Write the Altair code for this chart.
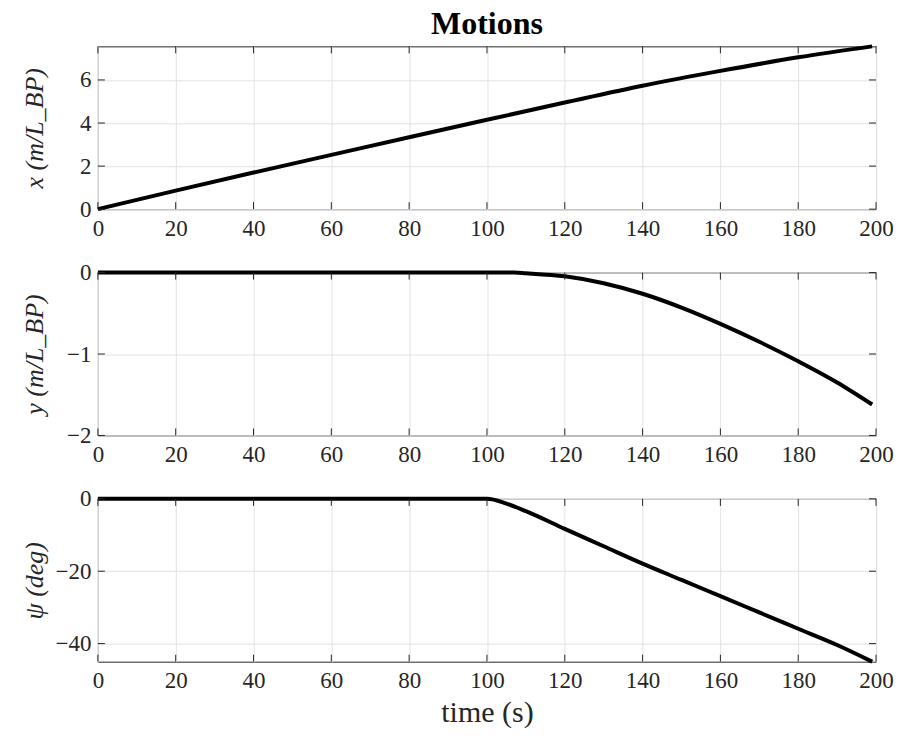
import altair as alt
import pandas as pd

# ---- data ----
t_x = [0, 20, 40, 60, 80, 100, 120, 140, 160, 180, 199]
x_pos = [0, 0.86, 1.70, 2.52, 3.34, 4.15, 4.95, 5.73, 6.42, 7.05, 7.56]

t_y = [0, 100, 107, 110, 120, 130, 140, 150, 160, 170, 180, 190, 199]
y_pos = [0, 0, 0, -0.008, -0.045, -0.13, -0.26, -0.43, -0.63, -0.85, -1.09, -1.35, -1.62]

t_psi = [0, 100, 105, 110, 120, 130, 140, 150, 160, 170, 180, 190, 199]
psi = [0, 0, -1.3, -3.4, -8.3, -13.1, -17.9, -22.4, -26.9, -31.4, -35.9, -40.4, -45.0]

x_ticks = [0, 20, 40, 60, 80, 100, 120, 140, 160, 180, 200]
x_ticks_p1 = [0, 2, 4, 6]
y_ticks_p2 = [-2, -1, 0]
psi_ticks = [-40, -20, 0]

W, H = 779, 163
FONT = "Liberation Serif"
FRAME = "#262626"
TL = 7  # inward tick length

xs = alt.Scale(domain=[0, 200], nice=False, zero=False)
xtick_df = pd.DataFrame({"t": x_ticks})


def panel(df, field, ydomain, yticks, ytitle, xtitle=None, title=None):
    ys = alt.Scale(domain=ydomain, nice=False, zero=False)
    xaxis = alt.Axis(values=x_ticks, labelFlush=False, labelOverlap=False, format=".0f",
                     title=xtitle, titlePadding=5, titleFontSize=30)
    yaxis = alt.Axis(values=yticks, title=ytitle, titleX=-63, titleY=H / 2,
                     titleAlign="center", titleBaseline="middle", titleAngle=270,
                     titleFontStyle="italic", labelOverlap=False, format=".0f",
                     labelPadding=7)
    X = alt.X("t:Q", scale=xs, axis=xaxis)
    Y = alt.Y(f"{field}:Q", scale=ys, axis=yaxis)
    line = alt.Chart(df).mark_line(color="black", strokeWidth=4, interpolate="monotone").encode(
        x=X, y=Y)
    ytick_df = pd.DataFrame({field: yticks})
    xb = alt.Chart(xtick_df).mark_rule(color=FRAME, strokeWidth=1).encode(
        x=X, y=alt.value(H), y2=alt.value(H - TL))
    xt = alt.Chart(xtick_df).mark_rule(color=FRAME, strokeWidth=1).encode(
        x=X, y=alt.value(0), y2=alt.value(TL))
    yl = alt.Chart(ytick_df).mark_rule(color=FRAME, strokeWidth=1).encode(
        y=Y, x=alt.value(0), x2=alt.value(TL))
    yr = alt.Chart(ytick_df).mark_rule(color=FRAME, strokeWidth=1).encode(
        y=Y, x=alt.value(W), x2=alt.value(W - TL))
    props = dict(width=W, height=H)
    if title is not None:
        props["title"] = alt.TitleParams(title, fontSize=32, fontWeight="bold", font=FONT,
                                         anchor="middle", frame="group", offset=-3, color="black")
    return alt.layer(line, xb, xt, yl, yr).properties(**props)


p1 = panel(pd.DataFrame({"t": t_x, "x": x_pos}), "x", [0, 7.56], x_ticks_p1,
           "x (m/L_BP)", title="Motions")
p2 = panel(pd.DataFrame({"t": t_y, "y": y_pos}), "y", [-2, 0], y_ticks_p2, "y (m/L_BP)")
p3 = panel(pd.DataFrame({"t": t_psi, "psi": psi}), "psi", [-45.0, 0], psi_ticks,
           "ψ (deg)", xtitle="time (s)")

chart = alt.vconcat(p1, p2, p3, spacing=63.5, bounds="flush").properties(
    padding={"left": 21, "top": 7, "right": 10, "bottom": 5},
    background="white",
).configure_view(stroke=FRAME, strokeWidth=1).configure_axis(
    labelFont=FONT, labelFontSize=23, labelColor=FRAME, labelPadding=8,
    labelOverlap=False,
    titleFont=FONT, titleFontSize=26, titleColor=FRAME, titleFontWeight="normal",
    domain=False, ticks=False, grid=True, gridColor="#e3e3e3", gridWidth=1,
)

chart.save("out.html", embed_options={"renderer": "svg", "actions": False})
